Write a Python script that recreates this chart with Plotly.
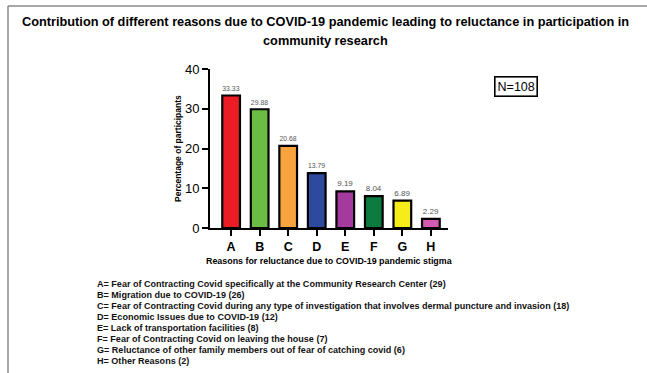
import plotly.graph_objects as go

categories = ["A", "B", "C", "D", "E", "F", "G", "H"]
values = [33.33, 29.88, 20.68, 13.79, 9.19, 8.04, 6.89, 2.29]
value_labels = ["33.33", "29.88", "20.68", "13.79", "9.19", "8.04", "6.89", "2.29"]
bar_colors = ["#EC1C24", "#6BBC45", "#F7A33E", "#2D4A9E", "#A53A9E", "#0D7A40", "#F5EC1A", "#D35AB3"]
y_ticks = [0, 10, 20, 30, 40]
legend_lines = [
    "A= Fear of Contracting Covid specifically at the Community Research Center (29)",
    "B= Migration due to COVID-19 (26)",
    "C= Fear of Contracting Covid during any type of investigation that involves dermal puncture and invasion (18)",
    "D= Economic Issues due to COVID-19 (12)",
    "E= Lack of transportation facilities (8)",
    "F= Fear of Contracting Covid on leaving the house (7)",
    "G= Reluctance of other family members out of fear of catching covid (6)",
    "H= Other Reasons (2)",
]
title_lines = [
    "Contribution of different reasons due to COVID-19 pandemic leading to reluctance in participation in",
    "community research",
]
n_label = "N=108"
x_title = "Reasons for reluctance due to COVID-19 pandemic stigma"
y_title = "Percentage of participants"

W, H = 647, 373
L, R, T, B = 210, 448, 69, 228  # plot area in pixels


def px(x):
    return (x - L) / (R - L)


def py(y):
    return (B - y) / (B - T)


FONT = "Liberation Sans, Arial, sans-serif"

fig = go.Figure()
fig.add_trace(go.Bar(
    x=categories, y=values,
    marker=dict(color=bar_colors, line=dict(color="black", width=2.2)),
    width=0.62,
    text=value_labels, textposition="outside",
    textfont=dict(family=FONT, size=8, color="#555555"),
    cliponaxis=False,
    showlegend=False,
))

annotations = []
for i, t in enumerate(title_lines):
    annotations.append(dict(
        text="<b>%s</b>" % t, xref="paper", yref="paper",
        x=px(325), y=py(21.5 + 19 * i), xanchor="center", yanchor="middle",
        showarrow=False, font=dict(family=FONT, size=12.75, color="black"),
    ))
for i, t in enumerate(legend_lines):
    annotations.append(dict(
        text="<b>%s</b>" % t, xref="paper", yref="paper",
        x=px(95), y=py(283.5 + 11.1 * i), xanchor="left", yanchor="middle",
        showarrow=False, font=dict(family=FONT, size=9.05, color="#111111"),
    ))
annotations.append(dict(
    text=n_label, xref="paper", yref="paper", x=px(515.5), y=py(86),
    xanchor="center", yanchor="middle", showarrow=False,
    font=dict(family=FONT, size=12.5, color="black"),
    bordercolor="black", borderwidth=1.6, borderpad=2, bgcolor="white",
))
annotations.append(dict(
    text="<b>%s</b>" % x_title, xref="paper", yref="paper", x=px(329), y=py(261),
    xanchor="center", yanchor="middle", showarrow=False,
    font=dict(family=FONT, size=8.9, color="black"),
))
annotations.append(dict(
    text="<b>%s</b>" % y_title, xref="paper", yref="paper", x=px(178), y=py(149),
    xanchor="center", yanchor="middle", showarrow=False, textangle=-90,
    font=dict(family=FONT, size=8.5, color="black"),
))

shapes = [
    dict(type="line", xref="paper", yref="paper", x0=px(8), x1=px(8), y0=py(6), y1=py(373),
         line=dict(color="#8a8a8a", width=1.5)),
    dict(type="line", xref="paper", yref="paper", x0=px(8), x1=px(647), y0=py(6), y1=py(6),
         line=dict(color="#8a8a8a", width=1.5)),
]

fig.update_layout(
    width=W, height=H,
    margin=dict(l=L, r=W - R, t=T, b=H - B, pad=0),
    paper_bgcolor="white", plot_bgcolor="white",
    font=dict(family=FONT, color="black"),
    annotations=annotations, shapes=shapes,
    bargap=0.38,
)
fig.update_xaxes(
    range=[-0.74, 7.6], showline=True, linecolor="black", linewidth=2,
    ticks="outside", ticklen=6, tickwidth=2, tickcolor="black",
    tickfont=dict(family=FONT, size=12.5, color="black"),
    showgrid=False, zeroline=False, tickprefix="<b>", ticksuffix="</b>",
)
fig.update_yaxes(
    range=[0, 40], tickvals=y_ticks, showline=True, linecolor="black", linewidth=2,
    ticks="outside", ticklen=6, tickwidth=2, tickcolor="black",
    tickfont=dict(family=FONT, size=13, color="black"),
    showgrid=False, zeroline=False, tickprefix="<b>", ticksuffix="</b>",
)

fig.write_html(
    "out.html",
    config={"displayModeBar": False},
    post_script="document.body.style.margin='0';document.body.style.overflow='hidden';",
)
